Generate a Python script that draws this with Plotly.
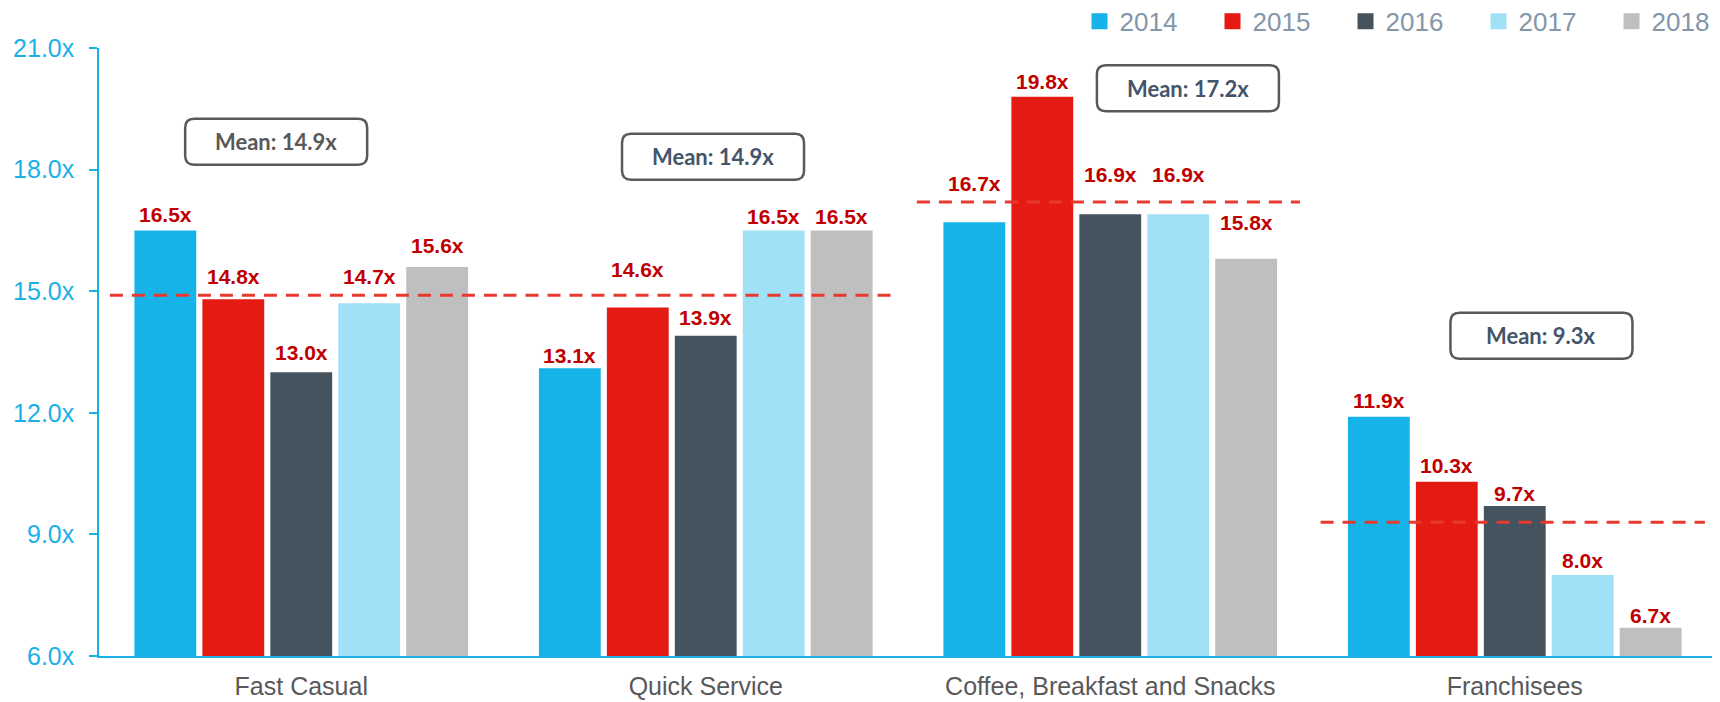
import plotly.graph_objects as go

# ---------------- data ----------------
categories = ["Fast Casual", "Quick Service", "Coffee, Breakfast and Snacks", "Franchisees"]
years = ["2014", "2015", "2016", "2017", "2018"]
v2014 = [16.5, 13.1, 16.7, 11.9]
v2015 = [14.8, 14.6, 19.8, 10.3]
v2016 = [13.0, 13.9, 16.9, 9.7]
v2017 = [14.7, 16.5, 16.9, 8.0]
v2018 = [15.6, 16.5, 15.8, 6.7]
series = [v2014, v2015, v2016, v2017, v2018]
means = [14.9, 14.9, 17.2, 9.3]
mean_labels = ["Mean: 14.9x", "Mean: 14.9x", "Mean: 17.2x", "Mean: 9.3x"]
y_ticks = [6, 9, 12, 15, 18, 21]

# ---------------- styles ----------------
colors = ["#15b3e8", "#e31b13", "#44535e", "#a1e1f8", "#bfbfbf"]
# extra vertical offset (px) of each value label above its bar
label_lift = [[0, -3, 23, 1], [7, 22, 0, 1], [4, 3, 24, -3], [11, -2, 24, -1], [6, -2, 21, -3]]
mean_span = [(-0.473, 0.5), (0.5, 1.473), (1.522, 2.469), (2.52, 3.47)]
box_pos = [(-0.062, 18.69), (1.018, 18.32), (2.192, 20.01), (3.066, 13.90)]
box_text_color = ["#595959", "#44546a", "#44546a", "#44546a"]
FONT = "Liberation Sans, Arial, sans-serif"
BLUE = "#1ab0e8"
bargap = 0.16

xs = list(range(len(categories)))
fig = go.Figure()
for j, (yr, vals) in enumerate(zip(years, series)):
    fig.add_trace(go.Bar(x=xs, y=vals, name=yr, showlegend=False,
                         marker=dict(color=colors[j], line=dict(width=0)), hoverinfo="skip"))
# legend entries (square swatches)
for j, yr in enumerate(years):
    fig.add_trace(go.Scatter(x=[None], y=[None], mode="markers", name=yr,
                             marker=dict(symbol="square", size=16, color=colors[j])))

for i, m in enumerate(means):
    x0, x1 = mean_span[i]
    fig.add_trace(go.Scatter(x=[x0, x1], y=[m, m], mode="lines", showlegend=False,
                             line=dict(color="#e8392e", width=3, dash="13px,9px"),
                             hoverinfo="skip"))

annotations = []
slot = (1 - bargap) / len(years)
for j, vals in enumerate(series):
    for i, v in enumerate(vals):
        annotations.append(dict(x=i + (j - 2) * slot, y=v, xref="x", yref="y",
                                text=f"{v:.1f}x", showarrow=False, yanchor="bottom",
                                yshift=2 + label_lift[j][i],
                                font=dict(family=FONT, size=21, color="#c00000", weight="bold")))

shapes = []
w, h, r = 182, 46, 9
path = (f"M {-w/2+r},{-h/2} L {w/2-r},{-h/2} Q {w/2},{-h/2} {w/2},{-h/2+r} "
        f"L {w/2},{h/2-r} Q {w/2},{h/2} {w/2-r},{h/2} L {-w/2+r},{h/2} "
        f"Q {-w/2},{h/2} {-w/2},{h/2-r} L {-w/2},{-h/2+r} Q {-w/2},{-h/2} {-w/2+r},{-h/2} Z")
for i, (bx, by) in enumerate(box_pos):
    shapes.append(dict(type="path", xref="x", yref="y", xsizemode="pixel", ysizemode="pixel",
                       xanchor=bx, yanchor=by, path=path,
                       line=dict(color="#595959", width=2.5), fillcolor="white"))
    annotations.append(dict(x=bx, y=by, xref="x", yref="y", text=mean_labels[i], showarrow=False,
                            font=dict(family="Lato, Liberation Sans, sans-serif", size=22,
                                      color=box_text_color[i], weight="bold")))

# page body adds an 8px margin, so the figure is sized/offset to compensate
fig.update_layout(
    width=1712, height=694,
    margin=dict(l=91, r=3, t=40, b=46, autoexpand=False),
    paper_bgcolor="white", plot_bgcolor="white",
    barmode="group", bargap=bargap, bargroupgap=0.09,
    font=dict(family=FONT),
    legend=dict(orientation="h", x=0.606, xanchor="left", y=1.044, yanchor="middle",
                font=dict(family=FONT, size=26, color="#8496a9"), bgcolor="rgba(0,0,0,0)",
                traceorder="normal", entrywidth=88, entrywidthmode="pixels"),
    xaxis=dict(range=[-0.5, 3.5], tickmode="array", tickvals=xs, ticktext=categories,
               showgrid=False, zeroline=False, showline=True, linecolor=BLUE, linewidth=1.5,
               ticks="", ticklabelstandoff=7,
               tickfont=dict(family=FONT, size=25, color="#595959")),
    yaxis=dict(range=[6, 21], tickmode="array", tickvals=y_ticks,
               ticktext=[f"{t:.1f}x" for t in y_ticks], showgrid=False, zeroline=False,
               showline=True, linecolor=BLUE, linewidth=1.5, ticks="outside", ticklen=8,
               tickcolor=BLUE, tickwidth=1.5, ticklabelstandoff=10,
               tickfont=dict(family=FONT, size=25, color=BLUE)),
    annotations=annotations, shapes=shapes,
)

fig.write_html("out.html")
